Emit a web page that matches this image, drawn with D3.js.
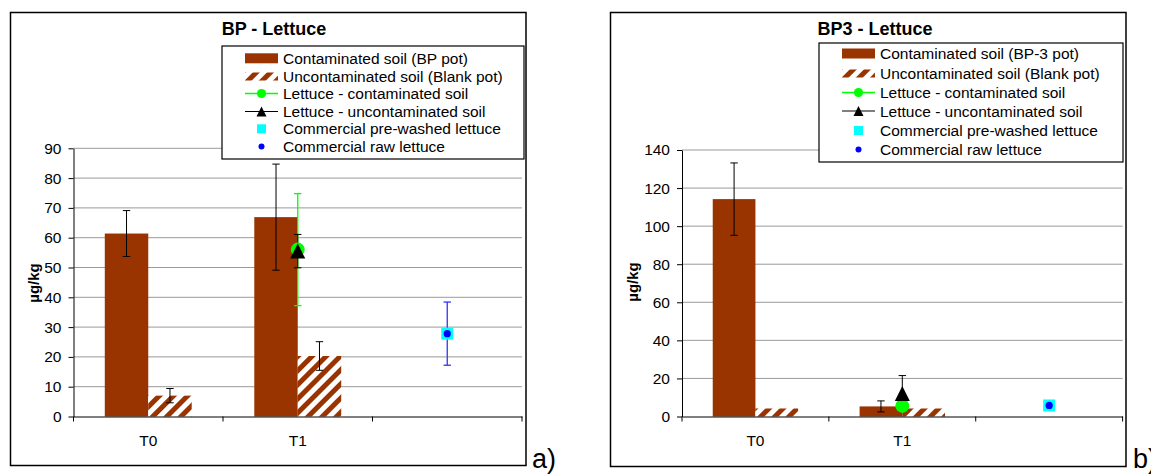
<!DOCTYPE html>
<html>
<head>
<meta charset="utf-8">
<script src="https://cdn.jsdelivr.net/npm/d3@7"></script>
<style>
	body { margin: 0; background: #fff; }
	svg { display: block; font-family: 'Liberation Sans', Arial, sans-serif; }
	.grid line { stroke: #9a9a9a; stroke-width: 1; }
	.axis path, .axis line { stroke: #000; stroke-width: 1; }
	.axis text { fill: #000; font-size: 15.5px; }
	.legend text { font-size: 15.5px; fill: #000; }
</style>
</head>
<body>
<svg id="chart" width="1151" height="474"></svg>
<script>
// shared categories
const categories = ['T0', 'T1', '']

// a) BP - Lettuce
const bpTicks = [0, 10, 20, 30, 40, 50, 60, 70, 80, 90]
const bpSoil = [61.4, 66.9]
const bpSoilErr = [7.7, 17.8]
const bpBlank = [7.0, 20.3]
const bpBlankErr = [2.4, 4.8]
const bpLettuceSoil = [null, 56.0, null]
const bpLettuceSoilErr = [null, 18.8, null]
const bpLettuceBlank = [null, 55.5, null]
const bpLettuceBlankErr = [null, 5.6, null]
const bpPrewashed = [null, null, 27.8]
const bpRaw = [null, null, 27.8]
const bpRawErr = [null, null, 10.6]
const bpLegend = ['Contaminated soil (BP pot)', 'Uncontaminated soil (Blank pot)', 'Lettuce - contaminated soil',
	'Lettuce - uncontaminated soil', 'Commercial pre-washed lettuce', 'Commercial raw lettuce']

// b) BP3 - Lettuce
const bp3Ticks = [0, 20, 40, 60, 80, 100, 120, 140]
const bp3Soil = [114.2, 5.3]
const bp3SoilErr = [19.0, 2.9]
const bp3Blank = [4.2, 4.2]
const bp3BlankErr = [null, null]
const bp3LettuceSoil = [null, 5.6, null]
const bp3LettuceSoilErr = [null, null, null]
const bp3LettuceBlank = [null, 12.1, null]
const bp3LettuceBlankErr = [null, 9.4, null]
const bp3Prewashed = [null, null, 5.8]
const bp3Raw = [null, null, 5.8]
const bp3RawErr = [null, null, null]
const bp3Legend = ['Contaminated soil (BP-3 pot)', 'Uncontaminated soil (Blank pot)', 'Lettuce - contaminated soil',
	'Lettuce - uncontaminated soil', 'Commercial pre-washed lettuce', 'Commercial raw lettuce']

const brown = '#993300'
const green = '#00ff00'
const cyan = '#00ffff'
const blue = '#0000ff'

const svg = d3.select('#chart')

const pat = svg.append('defs').append('pattern')
	.attr('id', 'hatch')
	.attr('patternUnits', 'userSpaceOnUse')
	.attr('width', 10)
	.attr('height', 10)
	.attr('patternTransform', 'rotate(45)')
pat.append('rect').attr('width', 10).attr('height', 10).attr('fill', '#fff')
pat.append('rect').attr('width', 5).attr('height', 10).attr('fill', brown)

const triangle = (w, h) => `M0,${-h / 2}L${w / 2},${h / 2}L${-w / 2},${h / 2}Z`

function errorBar (g, x, y, v, e, color, width) {
	if (v == null || e == null) return
	const cap = 3.7
	g.append('line').attr('x1', x).attr('x2', x).attr('y1', y(v - e)).attr('y2', y(v + e))
		.attr('stroke', color).attr('stroke-width', width)
	;[v - e, v + e].forEach((d) => {
		g.append('line').attr('x1', x - cap).attr('x2', x + cap).attr('y1', y(d)).attr('y2', y(d))
			.attr('stroke', color).attr('stroke-width', width)
	})
}

function drawPanel (o) {
	const root = svg.append('g')

	root.append('rect')
		.attr('x', o.frame[0]).attr('y', o.frame[1])
		.attr('width', o.frame[2]).attr('height', o.frame[3])
		.attr('fill', '#fff').attr('stroke', '#000').attr('stroke-width', 1.5)

	const y = d3.scaleLinear().domain([0, d3.max(o.ticks)]).range([o.bottom, o.top])
	const x = d3.scaleBand().domain(categories).range([o.left, o.right]).padding(0)
	const x1 = d3.scaleBand().domain(['soil', 'blank']).range([0, x.bandwidth()])
		.paddingInner(0).paddingOuter(0.72)

	// gridlines
	root.append('g').attr('class', 'grid')
		.selectAll('line')
		.data(o.ticks.filter((t) => t > 0))
		.join('line')
			.attr('x1', o.left).attr('x2', o.right)
			.attr('y1', (d) => y(d)).attr('y2', (d) => y(d))

	// bars
	const bars = root.append('g')
	bars.selectAll('.soil')
		.data(o.soil)
		.join('rect')
			.attr('class', 'soil')
			.attr('x', (d, i) => x(categories[i]) + x1('soil'))
			.attr('y', (d) => y(d))
			.attr('width', x1.bandwidth())
			.attr('height', (d) => y(0) - y(d))
			.attr('fill', brown)
	bars.selectAll('.blank')
		.data(o.blank)
		.join('rect')
			.attr('class', 'blank')
			.attr('x', (d, i) => x(categories[i]) + x1('blank'))
			.attr('y', (d) => y(d))
			.attr('width', x1.bandwidth())
			.attr('height', (d) => y(0) - y(d))
			.attr('fill', 'url(#hatch)')

	// axes
	const yAxis = root.append('g').attr('class', 'axis')
		.attr('transform', `translate(${o.left},0)`)
		.call(d3.axisLeft(y).tickValues(o.ticks).tickSize(5).tickSizeOuter(0).tickPadding(7))
	yAxis.attr('font-size', null).attr('font-family', null)

	const xAxis = root.append('g').attr('class', 'axis')
		.attr('transform', `translate(0,${o.bottom})`)
		.call(d3.axisBottom(x).tickSize(0).tickSizeOuter(0).tickPadding(18))
	xAxis.attr('font-size', null).attr('font-family', null)
	xAxis.selectAll('.edge')
		.data(d3.range(categories.length + 1))
		.join('line')
			.attr('class', 'edge')
			.attr('x1', (i) => o.left + i * x.step()).attr('x2', (i) => o.left + i * x.step())
			.attr('y1', 0).attr('y2', 5)

	// error bars
	const err = root.append('g')
	o.soil.forEach((v, i) => errorBar(err, x(categories[i]) + x1('soil') + x1.bandwidth() / 2, y, v, o.soilErr[i], '#000', 1))
	o.blank.forEach((v, i) => errorBar(err, x(categories[i]) + x1('blank') + x1.bandwidth() / 2, y, v, o.blankErr[i], '#000', 1))
	const cx = (i) => x(categories[i]) + x.bandwidth() / 2
	o.lettuceSoil.forEach((v, i) => errorBar(err, cx(i), y, v, o.lettuceSoilErr[i], green, 1.3))
	o.lettuceBlank.forEach((v, i) => errorBar(err, cx(i), y, v, o.lettuceBlankErr[i], '#000', 1))
	o.raw.forEach((v, i) => errorBar(err, cx(i), y, v, o.rawErr[i], '#3333ff', 1.3))

	// point series
	const pts = root.append('g')
	const idx = (arr) => arr.map((v, i) => ({ v, i })).filter((d) => d.v != null)
	pts.selectAll('.lsoil')
		.data(idx(o.lettuceSoil))
		.join('circle')
			.attr('cx', (d) => cx(d.i)).attr('cy', (d) => y(d.v))
			.attr('r', 7).attr('fill', green)
	pts.selectAll('.lblank')
		.data(idx(o.lettuceBlank))
		.join('path')
			.attr('d', triangle(15, 15))
			.attr('transform', (d) => `translate(${cx(d.i)},${y(d.v)})`)
			.attr('fill', '#000')
	pts.selectAll('.washed')
		.data(idx(o.prewashed))
		.join('rect')
			.attr('x', (d) => cx(d.i) - 6).attr('y', (d) => y(d.v) - 6)
			.attr('width', 12).attr('height', 12).attr('fill', cyan)
	pts.selectAll('.raw')
		.data(idx(o.raw))
		.join('circle')
			.attr('cx', (d) => cx(d.i)).attr('cy', (d) => y(d.v))
			.attr('r', 3.6).attr('fill', blue)

	// y label
	root.append('text')
		.attr('transform', `translate(${o.yLabel[0]},${o.yLabel[1]}) rotate(-90)`)
		.attr('text-anchor', 'middle')
		.attr('dominant-baseline', 'central')
		.attr('font-weight', 'bold')
		.attr('font-size', 15)
		.text('µg/kg')

	// title
	root.append('text')
		.attr('x', o.titlePos[0]).attr('y', o.titlePos[1])
		.attr('text-anchor', 'middle')
		.attr('font-weight', 'bold')
		.attr('font-size', 18)
		.text(o.title)

	// legend
	const lg = root.append('g').attr('class', 'legend')
	const b = o.legendBox
	lg.append('rect')
		.attr('x', b[0]).attr('y', b[1]).attr('width', b[2]).attr('height', b[3])
		.attr('fill', '#fff').attr('stroke', '#000').attr('stroke-width', 1.2)
	const sx0 = b[0] + 23
	const sx1 = b[0] + 56
	const sm = (sx0 + sx1) / 2
	o.legendLabels.forEach((label, i) => {
		const ry = o.legendRows[i]
		const row = lg.append('g')
		if (i === 0) {
			row.append('rect').attr('x', sx0).attr('y', ry - 5).attr('width', sx1 - sx0).attr('height', 10).attr('fill', brown)
		} else if (i === 1) {
			row.append('rect').attr('x', sx0).attr('y', ry - 4).attr('width', sx1 - sx0).attr('height', 8).attr('fill', 'url(#hatch)')
		} else if (i === 2) {
			row.append('line').attr('x1', sx0).attr('x2', sx1).attr('y1', ry).attr('y2', ry).attr('stroke', green).attr('stroke-width', 1.5)
			row.append('circle').attr('cx', sm).attr('cy', ry).attr('r', 4.6).attr('fill', green)
		} else if (i === 3) {
			row.append('line').attr('x1', sx0).attr('x2', sx1).attr('y1', ry).attr('y2', ry).attr('stroke', '#000').attr('stroke-width', 1.2)
			row.append('path').attr('d', triangle(10, 10)).attr('transform', `translate(${sm},${ry})`).attr('fill', '#000')
		} else if (i === 4) {
			row.append('rect').attr('x', sm - 4.5).attr('y', ry - 4.5).attr('width', 9).attr('height', 9).attr('fill', cyan)
		} else {
			row.append('circle').attr('cx', sm).attr('cy', ry).attr('r', 3).attr('fill', blue)
		}
		row.append('text')
			.attr('x', b[0] + 61)
			.attr('y', ry)
			.attr('dominant-baseline', 'central')
			.text(label)
	})

	svg.append('text')
		.attr('x', o.tag[0]).attr('y', o.tag[1])
		.attr('font-size', 27)
		.text(o.tagText)
}

drawPanel({
	title: 'BP - Lettuce',
	titlePos: [274, 35],
	frame: [10.5, 12.5, 515.5, 453],
	left: 73.5, right: 522, top: 148.3, bottom: 416.5,
	ticks: bpTicks,
	yLabel: [33, 283],
	legendBox: [222, 46, 302, 113],
	legendRows: [58.3, 76.5, 93.5, 111.5, 128.8, 146.6],
	legendLabels: bpLegend,
	soil: bpSoil, soilErr: bpSoilErr,
	blank: bpBlank, blankErr: bpBlankErr,
	lettuceSoil: bpLettuceSoil, lettuceSoilErr: bpLettuceSoilErr,
	lettuceBlank: bpLettuceBlank, lettuceBlankErr: bpLettuceBlankErr,
	prewashed: bpPrewashed,
	raw: bpRaw, rawErr: bpRawErr,
	tag: [532, 468], tagText: 'a)'
})

drawPanel({
	title: 'BP3 - Lettuce',
	titlePos: [875, 35],
	frame: [610.5, 12.5, 515.5, 454],
	left: 682, right: 1122.6, top: 150, bottom: 416.5,
	ticks: bp3Ticks,
	yLabel: [632, 282],
	legendBox: [819, 43, 304, 119],
	legendRows: [53.5, 73.5, 92.5, 111, 130.5, 149.5],
	legendLabels: bp3Legend,
	soil: bp3Soil, soilErr: bp3SoilErr,
	blank: bp3Blank, blankErr: bp3BlankErr,
	lettuceSoil: bp3LettuceSoil, lettuceSoilErr: bp3LettuceSoilErr,
	lettuceBlank: bp3LettuceBlank, lettuceBlankErr: bp3LettuceBlankErr,
	prewashed: bp3Prewashed,
	raw: bp3Raw, rawErr: bp3RawErr,
	tag: [1133, 468], tagText: 'b)'
})
</script>
</body>
</html>
